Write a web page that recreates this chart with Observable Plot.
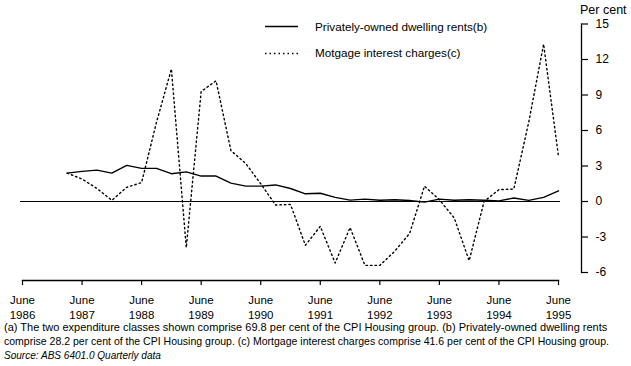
<!DOCTYPE html>
<html>
<head>
<meta charset="utf-8">
<script src="https://cdn.jsdelivr.net/npm/d3@7"></script>
<script src="https://cdn.jsdelivr.net/npm/@observablehq/plot@0.6"></script>
<style>
  html, body { margin: 0; padding: 0; background: #fff; }
  #wrap { position: relative; width: 631px; height: 366px; font-family: "Liberation Sans", Arial, sans-serif; color: #000; overflow: hidden; }
  #chart svg { display: block; }
  .lg { position: absolute; font-size: 11.7px; line-height: 14px; white-space: nowrap; }
  .lgsw { position: absolute; }
  #unit { position: absolute; left: 580px; top: 3px; font-size: 12.5px; line-height: 14px; }
  #notes { position: absolute; left: 4px; top: 320px; font-size: 11px; line-height: 14px; white-space: nowrap; }
  #notes > div { height: 14px; }
  #notes span { display: inline-block; }
  #notes .src { font-style: italic; }
</style>
</head>
<body>
<div id="wrap">
  <div id="chart"></div>
  <svg class="lgsw" style="left:264px;top:20px" width="36" height="40">
    <line x1="1" x2="34" y1="6.5" y2="6.5" stroke="#000" stroke-width="1.4"></line>
    <line x1="1" x2="34" y1="33.5" y2="33.5" stroke="#000" stroke-width="1.4" stroke-dasharray="1.5,3"></line>
  </svg>
  <div class="lg" style="left:315px;top:20px">Privately-owned dwelling rents(b)</div>
  <div class="lg" style="left:315px;top:46px">Motgage interest charges(c)</div>
  <div id="unit">Per cent</div>
  <div id="notes">
    <div><span data-w="603">(a) The two expenditure classes shown comprise 69.8 per cent of the CPI Housing group. (b) Privately-owned dwelling rents</span></div>
    <div><span data-w="605">comprise 28.2 per cent of the CPI Housing group. (c) Mortgage interest charges comprise 41.6 per cent of the CPI Housing group.</span></div>
    <div><span class="src" data-w="157">Source: ABS 6401.0 Quarterly data</span></div>
  </div>
</div>
<script>
// Quarterly observations (year-month)
const quarters = [
  "1987-03","1987-06","1987-09","1987-12",
  "1988-03","1988-06","1988-09","1988-12",
  "1989-03","1989-06","1989-09","1989-12",
  "1990-03","1990-06","1990-09","1990-12",
  "1991-03","1991-06","1991-09","1991-12",
  "1992-03","1992-06","1992-09","1992-12",
  "1993-03","1993-06","1993-09","1993-12",
  "1994-03","1994-06","1994-09","1994-12",
  "1995-03","1995-06"
];
// Privately-owned dwelling rents(b), per cent
const rents = [
  2.4, 2.55, 2.65, 2.4,
  3.05, 2.8, 2.8, 2.35,
  2.5, 2.15, 2.15, 1.55,
  1.3, 1.3, 1.4, 1.1,
  0.65, 0.7, 0.35, 0.12,
  0.2, 0.1, 0.15, 0.08,
  -0.05, 0.2, 0.1, 0.15,
  0.1, 0.05, 0.3, 0.1,
  0.35, 0.9
];
// Mortgage interest charges(c), per cent
const mortgage = [
  2.4, 1.9, 1.1, 0.1,
  1.2, 1.6, 6.7, 11.2,
  -3.9, 9.3, 10.2, 4.3,
  3.2, 1.5, -0.3, -0.25,
  -3.7, -2.1, -5.2, -2.2,
  -5.4, -5.4, -4.2, -2.7,
  1.3, 0.15, -1.4, -5.0,
  0.0, 1.0, 1.05, 6.7,
  13.3, 3.8
];
const tickYears = ["1986","1987","1988","1989","1990","1991","1992","1993","1994","1995"];
const tickMonth = "June";
const yTicks = [-6, -3, 0, 3, 6, 9, 12, 15];

// position in quarters since June 1986
const qpos = (s) => { const [y, m] = s.split("-").map(Number); return (y - 1986) * 4 + (m - 6) / 3; };
const rows = quarters.map((q, i) => ({t: qpos(q), rents: rents[i], mortgage: mortgage[i]}));
const tickPos = tickYears.map(y => qpos(y + "-06"));

const chart = Plot.plot({
  width: 631,
  height: 320,
  marginLeft: 22,
  marginRight: 50,
  marginTop: 23.5,
  marginBottom: 40,
  style: {fontFamily: "'Liberation Sans', Arial, sans-serif", fontSize: "11px", background: "#fff", color: "#000"},
  x: {domain: [0, 36], insetRight: 23},
  y: {domain: [-6, 15], insetBottom: 8},
  marks: [
    Plot.frame({anchor: "bottom", insetRight: 23, strokeWidth: 1.3}),
    Plot.frame({anchor: "right", insetBottom: 8, strokeWidth: 1.3}),
    Plot.axisX(tickPos, {
      tickSize: 5, tickPadding: 8, lineHeight: 1.3, fontSize: 11.5, label: null, strokeWidth: 1.2,
      tickFormat: d => tickMonth + "\n" + tickYears[tickPos.indexOf(d)]
    }),
    Plot.axisY(yTicks, {anchor: "right", tickSize: 6, tickPadding: 8, fontSize: 12, label: null, strokeWidth: 1.2,
      tickFormat: d => `${d}`}),
    Plot.ruleY([0], {insetRight: 21, insetLeft: -2, strokeWidth: 1.2}),
    Plot.line(rows, {x: "t", y: "rents", strokeWidth: 1.4}),
    Plot.line(rows, {x: "t", y: "mortgage", strokeWidth: 1.4, strokeDasharray: "1.5,3"})
  ]
});
document.getElementById("chart").appendChild(chart);

// fit each footnote line to its width in the reference
document.querySelectorAll("#notes span[data-w]").forEach(el => {
  const target = +el.dataset.w;
  const fs = parseFloat(getComputedStyle(el).fontSize);
  const w = el.getBoundingClientRect().width;
  if (w > 0) el.style.fontSize = (fs * target / w).toFixed(2) + "px";
});
</script>
</body>
</html>
